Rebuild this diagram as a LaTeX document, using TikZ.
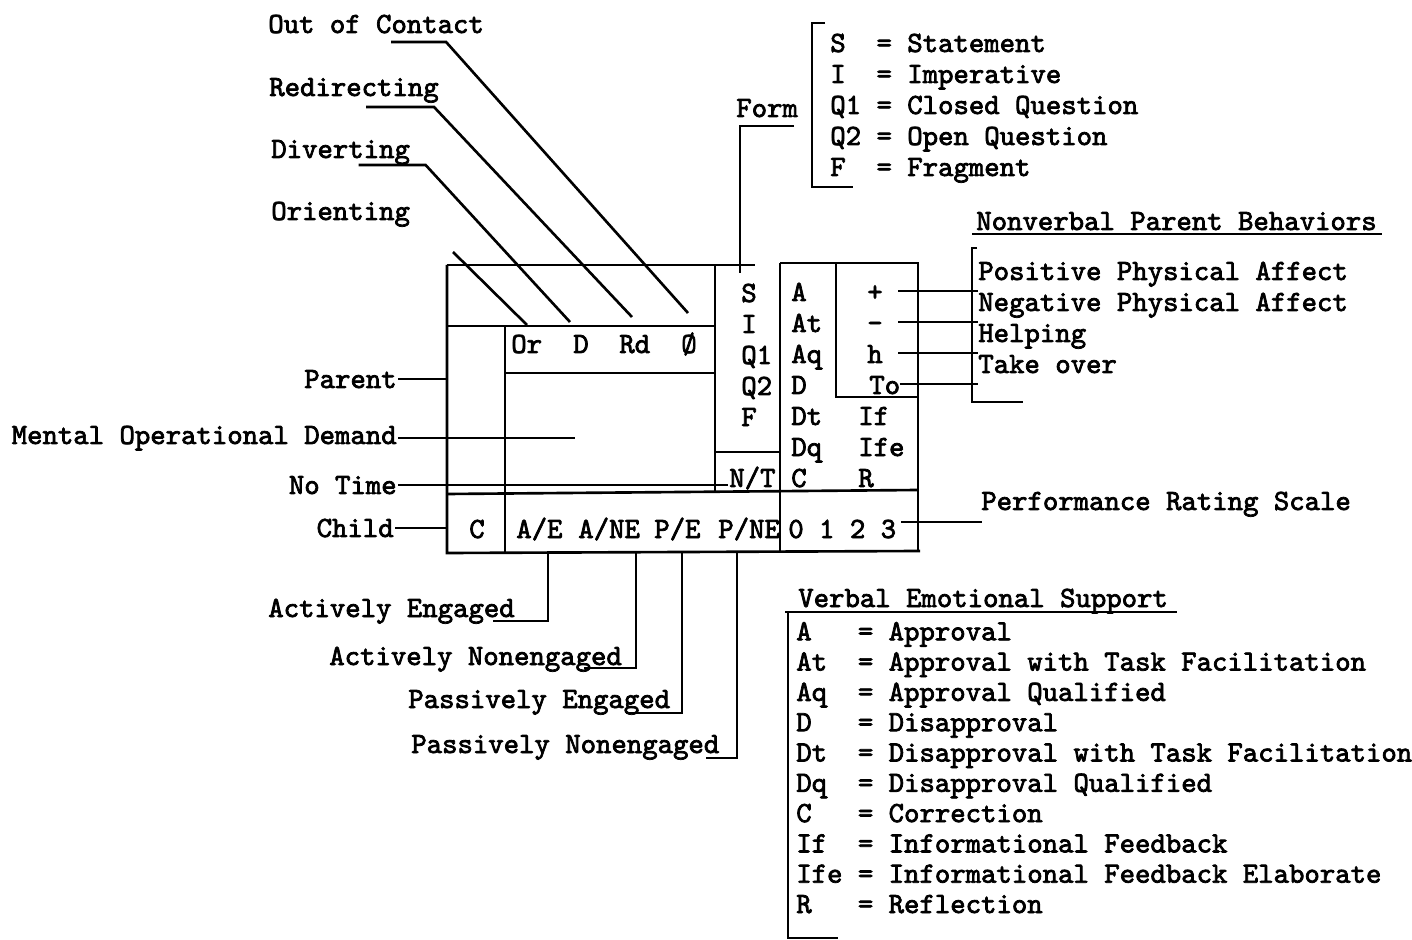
\documentclass[tikz,border=0pt]{standalone}
\usepackage{fontspec}
\usetikzlibrary{calc}
\newfontfamily\twfont[FakeBold=2.5]{lmmono10-regular.otf}

\tikzset{
  tw/.style={font=\twfont\fontsize{8.34}{10}\selectfont, inner sep=0pt, anchor=base west},
  twr/.style={tw, anchor=base east},
  twm/.style={tw, anchor=base},
}

\begin{document}
\begin{tikzpicture}[x=0.01cm, y=-0.01cm, line width=0.75pt]
\useasboundingbox (0,0) rectangle (1412,940);

% coding grid
\coordinate (gL) at (447,0);
\coordinate (mEnd) at (575,0);
\draw (447,265) -- (755,265);
\draw (780,263) -- (918,263) -- (918,551);
\draw (447,265) -- (447,553) -- (920,551);
\draw (447,326) -- (715,326);
\draw (505,326) -- (505,553);
\draw (505,373) -- (715,373);
\draw (715,265) -- (715,493);
\draw (715,452) -- (780,452);
\draw (780,263) -- (780,553);
\draw (836,263) -- (836,397) -- (918,397);
\draw (447,494) -- (918,490);

% parent cells
\node[tw] (cOr) at (510,353) {Or};
\node[tw] (cD) at (572,353) {D};
\node[tw] (cRd) at (618,353) {Rd};
\node[tw] (cZ) at (680,353) {Ø};
\foreach \txt [count=\i] in {S,I,Q1,Q2,F}
  \node[tw] (cF\i) at (740,271+31*\i) {\txt};
\node[tw] (cNT) at (728,487) {N/T};
\foreach \txt [count=\i] in {A,At,Aq,D,Dt,Dq,C}
  \node[tw] (cV\i) at (790,270+31*\i) {\txt};
\foreach \txt [count=\i] in {+,-,h}
  \node[twm] (cN\i) at (875,270+31*\i) {\txt};
\node[tw] (cN4) at (868,394) {To};
\foreach \txt [count=\i] in {If,Ife,R}
  \node[tw] (cI\i) at (857,394+31*\i) {\txt};

% child cells
\node[tw] (cC) at (468,538) {C};
\node[tw] (cAE) at (515,538) {A/E};
\node[tw] (cANE) at (577,538) {A/NE};
\node[tw] (cPE) at (653,538) {P/E};
\node[tw] (cPNE) at (717,538) {P/NE};
\node[tw] (cR) at (787,538) {0 1 2 3};

% parent behaviour labels
\node[tw] (lOut) at (267,33) {Out of Contact};
\node[tw] (lRed) at (268,96) {Redirecting};
\node[tw] (lDiv) at (270,158) {Diverting};
\node[tw] (lOri) at (270,220) {Orienting};
\draw ($(lOut.base)+(15,9)$) -- ++(55,0) -- (688,313);
\draw ($(lRed.base)+(12,11)$) -- ++(68,0) -- (632,317);
\draw ($(lDiv.base)+(18,7)$) -- ++(67,0) -- (570,322);
\draw (453,252) -- (527,325);

% rows at the left
\node[twr] (lPar) at (398,388) {Parent};
\node[twr] (lMOD) at (398,444) {Mental Operational Demand};
\node[twr] (lNT) at (398,494) {No Time};
\node[twr] (lCh) at (395,537) {Child};
\draw (lPar.east) -- (lPar.east -| gL);
\draw (lMOD.east) -- (lMOD.east -| mEnd);
\draw (lNT.east) -- (lNT.east -| cNT.west);
\draw (lCh.east) -- (lCh.east -| gL);

% child codes below
\node[tw] (lAE) at (267,617) {Actively Engaged};
\node[tw] (lANE) at (328,665) {Actively Nonengaged};
\node[tw] (lPE) at (407,708) {Passively Engaged};
\node[tw] (lPNE) at (410,753) {Passively Nonengaged};
\draw (548,551) |- ($(lAE.base east)+(-23,4)$);
\draw (636,551) |- ($(lANE.base east)+(-39,3)$);
\draw (682,551) |- ($(lPE.base east)+(-45,5)$);
\draw (737,551) |- ($(lPNE.base east)+(-15,5)$);

% form legend
\node[tw] (lForm) at (735,117) {Form};
\draw ($(lForm.base east)+(-5,9)$) -- ($(lForm.base west)+(5,9)$) -- (740,273);
\foreach \key/\txt [count=\i] in {S~~/Statement, I~~/Imperative, Q1~/Closed Question, Q2~/Open Question, F~~/Fragment}
  \node[tw] (fl\i) at (829,21+31*\i) {\key=~\txt};
\draw (825,23) -- (812,23) -- (812,187) -- (853,187);

% nonverbal legend
\node[tw] (lNV) at (975,230) {Nonverbal Parent Behaviors};
\draw ($(lNV.base west)+(-3,4)$) -- ($(lNV.base east)+(4,4)$);
\foreach \txt [count=\i] in {Positive Physical Affect, Negative Physical Affect, Helping, Take over}
  \node[tw] (nv\i) at (977,249+31*\i) {\txt};
\draw (977,248) -- (972,248) -- (972,402) -- (1023,402);
\foreach \i/\s in {1/23,2/23,3/23,4/15}
  \draw ($(cN\i.base)+(\s,-10)$) -- ($(nv\i.base west)+(1,11)$);

% rating scale
\node[tw] (lPerf) at (980,510) {Performance Rating Scale};
\draw ($(cR.base east)+(4,-16)$) -- ($(lPerf.base west)+(2,12)$);

% verbal legend
\node[tw] (lVES) at (797,607) {Verbal Emotional Support};
\draw ($(lVES.base west)+(-12,5)$) -- ($(lVES.base east)+(8,5)$);
\foreach \key/\txt [count=\i] in {A~~~/Approval, At~~/Approval with Task Facilitation, Aq~~/Approval Qualified, D~~~/Disapproval, Dt~~/Disapproval with Task Facilitation, Dq~~/Disapproval Qualified, C~~~/Correction, If~~/Informational Feedback, Ife~/Informational Feedback Elaborate, R~~~/Reflection}
  \node[tw] (ve\i) at (795,610+30.3*\i) {\key=~\txt};
\draw (788,612) -- (788,938) -- (838,938);
\end{tikzpicture}
\end{document}
